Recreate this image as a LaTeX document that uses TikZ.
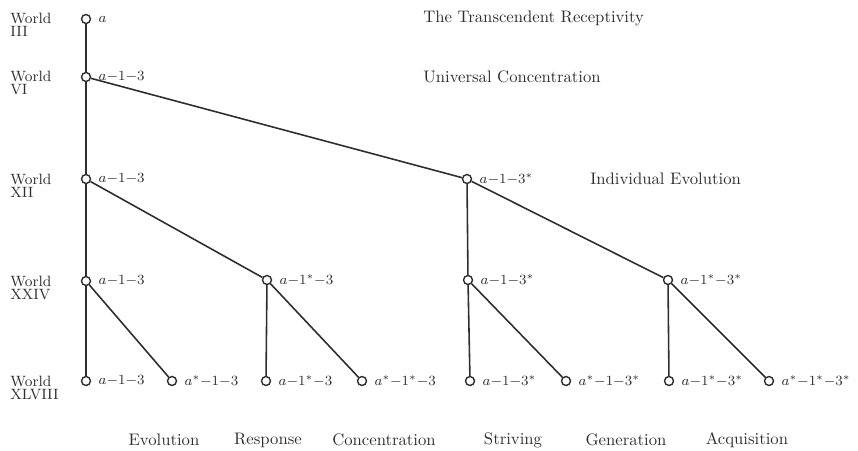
\documentclass[tikz,border=0pt]{standalone}
\usepackage{amsmath}
\usetikzlibrary{positioning}
\definecolor{ink}{HTML}{2E2E2E}
\definecolor{paper}{HTML}{FFFFFF}

\begin{document}
\begin{tikzpicture}[x=0.02cm,y=-0.02cm,
  pt/.style={circle,draw=ink,fill=paper,line width=0.8pt,inner sep=0pt,minimum size=0.18cm},
  tag/.style={font=\fontsize{8}{9}\selectfont,text=ink,anchor=west,inner sep=0pt},
  lvl/.style={font=\fontsize{8.5}{7}\selectfont,text=ink,align=left,anchor=north west,inner sep=0pt},
  head/.style={font=\fontsize{9.5}{11}\selectfont,text=ink,anchor=west,inner sep=0pt},
  arm/.style={draw=ink,line width=0.9pt}]
\useasboundingbox (0,0) rectangle (858,450);
% world levels on the left
\node[lvl] (l3)  at (10,13)  {World\\III};
\node[lvl] (l6)  at (10,71)  {World\\VI};
\node[lvl] (l12) at (10,174) {World\\XII};
\node[lvl] (l24) at (10,276) {World\\XXIV};
\node[lvl] (l48) at (10,376) {World\\XLVIII};
% the points of the tree
\node[pt] (a)    at (86,19)  {};
\node[pt] (b)    at (86,77)  {};
\node[pt] (c1)   at (86,179) {};
\node[pt] (c2)   at (467,179) {};
\node[pt] (d1)   at (86,281) {};
\node[pt] (d2)   at (267,280) {};
\node[pt] (d3)   at (468,280) {};
\node[pt] (d4)   at (668,280) {};
\node[pt] (e1)   at (86,381) {};
\node[pt] (e2)   at (172,381) {};
\node[pt] (e3)   at (266,381) {};
\node[pt] (e4)   at (362,381) {};
\node[pt] (e5)   at (470,381) {};
\node[pt] (e6)   at (566,381) {};
\node[pt] (e7)   at (669,381) {};
\node[pt] (e8)   at (769,381) {};
% branches
\draw[arm] (a)--(b) (b)--(c1) (b)--(c2);
\draw[arm] (c1)--(d1) (c1)--(d2) (c2)--(d3) (c2)--(d4);
\draw[arm] (d1)--(e1) (d1)--(e2) (d2)--(e3) (d2)--(e4);
\draw[arm] (d3)--(e5) (d3)--(e6) (d4)--(e7) (d4)--(e8);
% symbols beside the points
\node[tag,right=4pt of a]  (ta)  {$a$};
\node[tag,right=4pt of b]  (tb)  {$a{-}1{-}3$};
\node[tag,right=4pt of c1] (tc1) {$a{-}1{-}3$};
\node[tag,right=4pt of c2] (tc2) {$a{-}1{-}3^*$};
\node[tag,right=4pt of d1] (td1) {$a{-}1{-}3$};
\node[tag,right=4pt of d2] (td2) {$a{-}1^*{-}3$};
\node[tag,right=4pt of d3] (td3) {$a{-}1{-}3^*$};
\node[tag,right=4pt of d4] (td4) {$a{-}1^*{-}3^*$};
\node[tag,right=4pt of e1] (te1) {$a{-}1{-}3$};
\node[tag,right=4pt of e2] (te2) {$a^*{-}1{-}3$};
\node[tag,right=4pt of e3] (te3) {$a{-}1^*{-}3$};
\node[tag,right=4pt of e4] (te4) {$a^*{-}1^*{-}3$};
\node[tag,right=4pt of e5] (te5) {$a{-}1{-}3^*$};
\node[tag,right=4pt of e6] (te6) {$a^*{-}1{-}3^*$};
\node[tag,right=4pt of e7] (te7) {$a{-}1^*{-}3^*$};
\node[tag,right=4pt of e8] (te8) {$a^*{-}1^*{-}3^*$};
% headings
\node[head] (h1) at (423,18)  {The Transcendent Receptivity};
\node[head] (h2) at (423,77)  {Universal Concentration};
\node[head] (h3) at (590,179) {Individual Evolution};
% names along the bottom
\node[head,anchor=center] (n1) at (164,440) {Evolution};
\node[head,anchor=center] (n2) at (268,440) {Response};
\node[head,anchor=center] (n3) at (384,440) {Concentration};
\node[head,anchor=center] (n4) at (513,440) {Striving};
\node[head,anchor=center] (n5) at (626,440) {Generation};
\node[head,anchor=center] (n6) at (747,440) {Acquisition};
\end{tikzpicture}
\end{document}
